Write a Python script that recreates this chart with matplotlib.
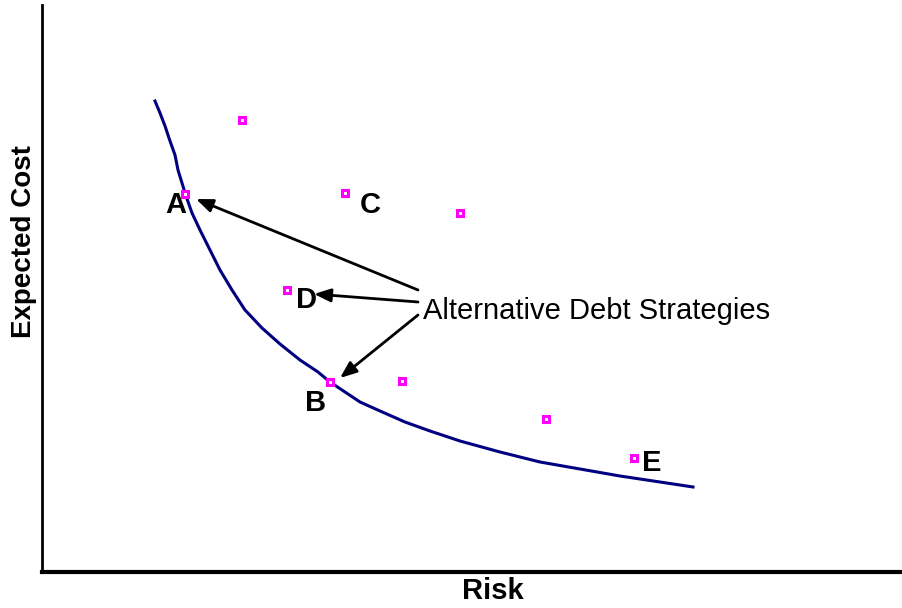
import matplotlib
matplotlib.use("Agg")
import matplotlib.pyplot as plt

plt.rcParams['font.family'] = ['Liberation Sans', 'DejaVu Sans']

# Efficient frontier curve (read in pixel-like units: x = risk, y = cost, image rows)
curve_x = [155, 160, 165, 170, 175, 178, 182, 186, 192, 200, 210, 220, 232, 245, 262, 280, 300, 318, 330, 345, 360, 380, 405, 430, 460, 500, 540, 580, 620, 660, 693]
curve_y = [101, 113, 126, 141, 155, 170, 183, 196, 213, 230, 250, 270, 290, 310, 328, 344, 360, 372, 382, 392, 402, 411, 422, 431, 441, 452, 462, 469, 476, 482, 487]

# Alternative strategies (points)
pts_x = [242, 185, 345, 460, 287, 330, 402, 546, 634]
pts_y = [120, 194, 193, 213, 290, 382, 381, 419, 458]

labels = ["A", "C", "D", "B", "E"]
label_x = [176, 370, 306, 316, 652]
label_y = [205, 205, 300, 403, 463]

annot_text = "Alternative Debt Strategies"
arrow_targets_x = [196, 314, 340]
arrow_targets_y = [199, 294, 378]
arrow_src_x = [418, 418, 418]
arrow_src_y = [290, 302, 315]

fig = plt.figure(figsize=(9.02, 6.08), dpi=100)
W, H = 902, 608
x0, x1, y0, y1 = 42, 902, 5, 572
ax = fig.add_axes([x0 / W, 1 - y1 / H, (x1 - x0) / W, (y1 - y0) / H])
ax.set_xlim(x0, x1)
ax.set_ylim(y1, y0)

ax.plot(curve_x, curve_y, color='#000080', lw=2.2, zorder=2)
ax.plot(pts_x, pts_y, ls='none', marker='s', ms=4.5, mfc='white', mec='#FF00FF', mew=2.2, zorder=3)

for t, lx, ly in zip(labels, label_x, label_y):
    ax.text(lx, ly, t, fontsize=21, fontweight='bold', ha='center', va='center', color='black')

ax.text(423, 311, annot_text, fontsize=21, ha='left', va='center', color='black')
for sx, sy, tx, ty in zip(arrow_src_x, arrow_src_y, arrow_targets_x, arrow_targets_y):
    ax.annotate('', xy=(tx, ty), xytext=(sx, sy),
                arrowprops=dict(arrowstyle='-|>,head_length=1.0,head_width=0.4',
                                color='black', lw=2, shrinkA=0, shrinkB=0))

for s in ['top', 'right']:
    ax.spines[s].set_visible(False)
ax.spines['left'].set_linewidth(2)
ax.spines['bottom'].set_linewidth(3)
ax.set_xticks([])
ax.set_yticks([])

fig.text(493 / W, 1 - 591 / H, "Risk", fontsize=21, fontweight='bold', ha='center', va='center')
fig.text(24 / W, 1 - 242 / H, "Expected Cost", fontsize=20, fontweight='bold', ha='center', va='center', rotation=90)

fig.savefig("out.png", dpi=100)
